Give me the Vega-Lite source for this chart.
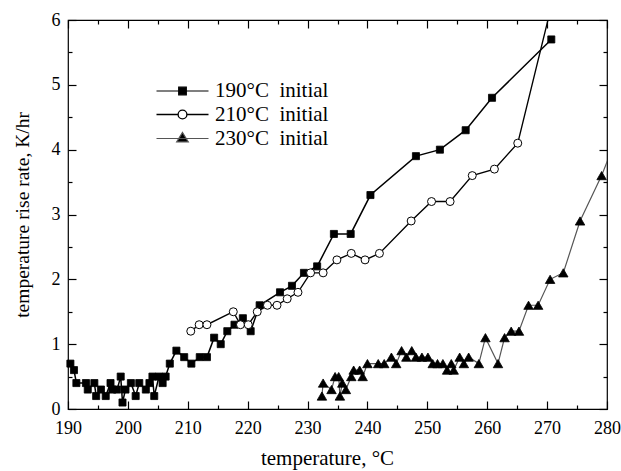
{
  "$schema": "https://vega.github.io/schema/vega-lite/v6.json",
  "width": 539,
  "height": 389,
  "autosize": "none",
  "padding": {"left": 68, "top": 20, "right": 14, "bottom": 62},
  "background": "white",
  "config": {
    "font": "Liberation Serif",
    "view": {"stroke": "black", "strokeWidth": 1.2},
    "axis": {
      "domain": false, "grid": false, "ticks": true, "zindex": 1,
      "tickColor": "black", "tickWidth": 1.2, "tickOpacity": 1,
      "labelColor": "black", "titleColor": "black",
      "labelFont": "Liberation Serif", "titleFont": "Liberation Serif",
      "titleFontWeight": "normal",
      "labelFontSize": 18, "titleFontSize": 20
    },
    "legend": {
      "orient": "none", "padding": 0, "title": null,
      "labelFont": "Liberation Serif", "labelFontSize": 21, "labelColor": "black",
      "symbolSize": 64, "symbolStrokeWidth": 1.2,
      "symbolOffset": 16, "labelOffset": 22
    }
  },
  "data": {"values": [
    {"series": "190°C initial", "t": 190.4, "rate": 0.7},
    {"series": "190°C initial", "t": 191.0, "rate": 0.6},
    {"series": "190°C initial", "t": 191.4, "rate": 0.4},
    {"series": "190°C initial", "t": 193.0, "rate": 0.4},
    {"series": "190°C initial", "t": 193.3, "rate": 0.3},
    {"series": "190°C initial", "t": 194.4, "rate": 0.4},
    {"series": "190°C initial", "t": 194.7, "rate": 0.2},
    {"series": "190°C initial", "t": 195.5, "rate": 0.3},
    {"series": "190°C initial", "t": 196.3, "rate": 0.2},
    {"series": "190°C initial", "t": 197.1, "rate": 0.4},
    {"series": "190°C initial", "t": 197.4, "rate": 0.3},
    {"series": "190°C initial", "t": 198.2, "rate": 0.3},
    {"series": "190°C initial", "t": 198.8, "rate": 0.5},
    {"series": "190°C initial", "t": 199.1, "rate": 0.1},
    {"series": "190°C initial", "t": 199.6, "rate": 0.3},
    {"series": "190°C initial", "t": 200.5, "rate": 0.4},
    {"series": "190°C initial", "t": 201.3, "rate": 0.2},
    {"series": "190°C initial", "t": 201.9, "rate": 0.4},
    {"series": "190°C initial", "t": 203.0, "rate": 0.3},
    {"series": "190°C initial", "t": 203.6, "rate": 0.4},
    {"series": "190°C initial", "t": 204.1, "rate": 0.5},
    {"series": "190°C initial", "t": 204.4, "rate": 0.2},
    {"series": "190°C initial", "t": 205.2, "rate": 0.5},
    {"series": "190°C initial", "t": 205.8, "rate": 0.4},
    {"series": "190°C initial", "t": 206.3, "rate": 0.5},
    {"series": "190°C initial", "t": 207.0, "rate": 0.7},
    {"series": "190°C initial", "t": 208.1, "rate": 0.9},
    {"series": "190°C initial", "t": 209.4, "rate": 0.8},
    {"series": "190°C initial", "t": 210.6, "rate": 0.7},
    {"series": "190°C initial", "t": 212.0, "rate": 0.8},
    {"series": "190°C initial", "t": 213.2, "rate": 0.8},
    {"series": "190°C initial", "t": 214.4, "rate": 1.1},
    {"series": "190°C initial", "t": 215.5, "rate": 1.0},
    {"series": "190°C initial", "t": 216.6, "rate": 1.2},
    {"series": "190°C initial", "t": 217.8, "rate": 1.3},
    {"series": "190°C initial", "t": 219.2, "rate": 1.4},
    {"series": "190°C initial", "t": 220.5, "rate": 1.2},
    {"series": "190°C initial", "t": 222.0, "rate": 1.6},
    {"series": "190°C initial", "t": 225.4, "rate": 1.8},
    {"series": "190°C initial", "t": 227.4, "rate": 1.9},
    {"series": "190°C initial", "t": 229.4, "rate": 2.1},
    {"series": "190°C initial", "t": 231.6, "rate": 2.2},
    {"series": "190°C initial", "t": 234.4, "rate": 2.7},
    {"series": "190°C initial", "t": 237.2, "rate": 2.7},
    {"series": "190°C initial", "t": 240.5, "rate": 3.3},
    {"series": "190°C initial", "t": 248.1, "rate": 3.9},
    {"series": "190°C initial", "t": 252.1, "rate": 4.0},
    {"series": "190°C initial", "t": 256.4, "rate": 4.3},
    {"series": "190°C initial", "t": 260.8, "rate": 4.8},
    {"series": "190°C initial", "t": 270.7, "rate": 5.7},
    {"series": "210°C initial", "t": 210.5, "rate": 1.2},
    {"series": "210°C initial", "t": 211.9, "rate": 1.3},
    {"series": "210°C initial", "t": 213.2, "rate": 1.3},
    {"series": "210°C initial", "t": 217.6, "rate": 1.5},
    {"series": "210°C initial", "t": 218.8, "rate": 1.3},
    {"series": "210°C initial", "t": 220.1, "rate": 1.3},
    {"series": "210°C initial", "t": 221.6, "rate": 1.5},
    {"series": "210°C initial", "t": 223.3, "rate": 1.6},
    {"series": "210°C initial", "t": 224.9, "rate": 1.6},
    {"series": "210°C initial", "t": 226.6, "rate": 1.7},
    {"series": "210°C initial", "t": 228.4, "rate": 1.8},
    {"series": "210°C initial", "t": 230.5, "rate": 2.1},
    {"series": "210°C initial", "t": 232.6, "rate": 2.1},
    {"series": "210°C initial", "t": 234.9, "rate": 2.3},
    {"series": "210°C initial", "t": 237.3, "rate": 2.4},
    {"series": "210°C initial", "t": 239.6, "rate": 2.3},
    {"series": "210°C initial", "t": 242.0, "rate": 2.4},
    {"series": "210°C initial", "t": 247.3, "rate": 2.9},
    {"series": "210°C initial", "t": 250.7, "rate": 3.2},
    {"series": "210°C initial", "t": 253.8, "rate": 3.2},
    {"series": "210°C initial", "t": 257.5, "rate": 3.6},
    {"series": "210°C initial", "t": 261.2, "rate": 3.7},
    {"series": "210°C initial", "t": 265.1, "rate": 4.1},
    {"series": "210°C initial", "t": 271.2, "rate": 6.4},
    {"series": "230°C initial", "t": 232.4, "rate": 0.2},
    {"series": "230°C initial", "t": 232.6, "rate": 0.4},
    {"series": "230°C initial", "t": 234.0, "rate": 0.3},
    {"series": "230°C initial", "t": 234.6, "rate": 0.5},
    {"series": "230°C initial", "t": 235.2, "rate": 0.5},
    {"series": "230°C initial", "t": 235.4, "rate": 0.2},
    {"series": "230°C initial", "t": 235.8, "rate": 0.4},
    {"series": "230°C initial", "t": 236.4, "rate": 0.3},
    {"series": "230°C initial", "t": 237.3, "rate": 0.5},
    {"series": "230°C initial", "t": 237.7, "rate": 0.6},
    {"series": "230°C initial", "t": 238.7, "rate": 0.6},
    {"series": "230°C initial", "t": 239.2, "rate": 0.5},
    {"series": "230°C initial", "t": 240.0, "rate": 0.7},
    {"series": "230°C initial", "t": 241.8, "rate": 0.7},
    {"series": "230°C initial", "t": 242.8, "rate": 0.7},
    {"series": "230°C initial", "t": 244.0, "rate": 0.8},
    {"series": "230°C initial", "t": 244.8, "rate": 0.7},
    {"series": "230°C initial", "t": 245.7, "rate": 0.9},
    {"series": "230°C initial", "t": 246.5, "rate": 0.8},
    {"series": "230°C initial", "t": 247.4, "rate": 0.9},
    {"series": "230°C initial", "t": 248.1, "rate": 0.8},
    {"series": "230°C initial", "t": 249.1, "rate": 0.8},
    {"series": "230°C initial", "t": 250.1, "rate": 0.8},
    {"series": "230°C initial", "t": 250.9, "rate": 0.7},
    {"series": "230°C initial", "t": 251.7, "rate": 0.7},
    {"series": "230°C initial", "t": 252.6, "rate": 0.7},
    {"series": "230°C initial", "t": 253.3, "rate": 0.6},
    {"series": "230°C initial", "t": 254.0, "rate": 0.7},
    {"series": "230°C initial", "t": 254.4, "rate": 0.6},
    {"series": "230°C initial", "t": 255.4, "rate": 0.8},
    {"series": "230°C initial", "t": 256.1, "rate": 0.7},
    {"series": "230°C initial", "t": 256.9, "rate": 0.8},
    {"series": "230°C initial", "t": 258.6, "rate": 0.7},
    {"series": "230°C initial", "t": 259.7, "rate": 1.1},
    {"series": "230°C initial", "t": 261.8, "rate": 0.7},
    {"series": "230°C initial", "t": 262.9, "rate": 1.1},
    {"series": "230°C initial", "t": 264.0, "rate": 1.2},
    {"series": "230°C initial", "t": 265.3, "rate": 1.2},
    {"series": "230°C initial", "t": 266.9, "rate": 1.6},
    {"series": "230°C initial", "t": 268.5, "rate": 1.6},
    {"series": "230°C initial", "t": 270.5, "rate": 2.0},
    {"series": "230°C initial", "t": 272.7, "rate": 2.1},
    {"series": "230°C initial", "t": 275.5, "rate": 2.9},
    {"series": "230°C initial", "t": 279.1, "rate": 3.6},
    {"series": "230°C initial", "t": 281.0, "rate": 4.05}
  ]},
  "layer": [
    {
      "mark": {"type": "line", "clip": true},
      "encoding": {
        "x": {
          "field": "t", "type": "quantitative",
          "scale": {"domain": [190, 280], "nice": false, "zero": false},
          "axis": {
            "orient": "bottom", "offset": -8, "tickSize": 8,
            "values": [190, 200, 210, 220, 230, 240, 250, 260, 270, 280],
            "format": "d",
            "labelOverlap": false, "labelFlush": false,
            "labelPadding": 10,
            "title": "temperature, °C",
            "titleFontSize": 21,
            "titleX": 259,
            "titlePadding": 10
          }
        },
        "y": {
          "field": "rate", "type": "quantitative",
          "scale": {"domain": [0, 6], "nice": false, "zero": true},
          "axis": {
            "orient": "left", "offset": -8, "tickSize": 8,
            "values": [0, 1, 2, 3, 4, 5, 6],
            "format": "d",
            "labelOverlap": false, "labelFlush": false,
            "labelPadding": 8,
            "title": "temperature rise rate, K/hr",
            "titleFontSize": 19.5,
            "titlePadding": 19
          }
        },
        "color": {
          "field": "series", "type": "nominal",
          "scale": {"range": ["black", "black", "#555555"]},
          "legend": {
            "values": ["190°C initial"],
            "legendX": 88, "legendY": 60.5,
            "labelExpr": "replace(datum.label, ' ', '\u00a0\u00a0')",
            "symbolType": "M-6.5,0H6.5M-0.95,-0.95H0.95V0.95H-0.95Z",
            "symbolFillColor": "black"
          }
        },
        "strokeWidth": {
          "field": "series", "type": "nominal",
          "scale": {"domain": ["190°C initial", "210°C initial", "230°C initial"], "range": [1.5, 1.2, 1]},
          "legend": {
            "values": ["210°C initial"],
            "legendX": 88, "legendY": 84,
            "labelExpr": "replace(datum.label, ' ', '\u00a0\u00a0')",
            "symbolType": "M-6.5,0H-1.1M1.1,0H6.5M-1.1,0A1.1,1.1,0,1,1,1.1,0A1.1,1.1,0,1,1,-1.1,0Z",
            "symbolFillColor": "white",
            "symbolStrokeColor": "black"
          }
        },
        "opacity": {
          "field": "series", "type": "nominal",
          "scale": {"domain": ["230°C initial", "210°C initial", "190°C initial"], "range": [1, 1, 1]},
          "legend": {
            "values": ["230°C initial"],
            "legendX": 88, "legendY": 108,
            "labelExpr": "replace(datum.label, ' ', '\u00a0\u00a0')",
            "symbolType": "M-6.5,0H6.5M0,-1.5L1.45,0.85L-1.45,0.85Z",
            "symbolFillColor": "black",
            "symbolStrokeColor": "#555555"
          }
        }
      }
    },
    {
      "transform": [{"filter": "datum.series === '190°C initial' && datum.t <= 280 && datum.rate <= 6"}],
      "mark": {"type": "point", "shape": "square", "size": 50, "filled": true, "fill": "black", "stroke": "black", "strokeWidth": 0.8, "opacity": 1},
      "encoding": {
        "x": {
          "field": "t", "type": "quantitative",
          "scale": {"domain": [190, 280], "nice": false, "zero": false},
          "axis": {
            "orient": "top", "offset": -8, "tickSize": 8,
            "values": [190, 200, 210, 220, 230, 240, 250, 260, 270, 280],
            "labels": false, "title": null
          }
        },
        "y": {
          "field": "rate", "type": "quantitative",
          "scale": {"domain": [0, 6], "nice": false, "zero": true},
          "axis": {
            "orient": "right", "offset": -8, "tickSize": 8,
            "values": [0, 1, 2, 3, 4, 5, 6],
            "labels": false, "title": null
          }
        }
      }
    },
    {
      "transform": [{"filter": "datum.series === '210°C initial' && datum.t <= 280 && datum.rate <= 6"}],
      "mark": {"type": "point", "shape": "circle", "size": 64, "fill": "white", "stroke": "black", "strokeWidth": 1, "opacity": 1},
      "encoding": {
        "x": {
          "field": "t", "type": "quantitative",
          "axis": {
            "orient": "bottom", "offset": -4, "tickSize": 4,
            "values": [195, 205, 215, 225, 235, 245, 255, 265, 275],
            "labels": false, "title": null
          }
        },
        "y": {
          "field": "rate", "type": "quantitative",
          "axis": {
            "orient": "left", "offset": -4, "tickSize": 4,
            "values": [0.5, 1.5, 2.5, 3.5, 4.5, 5.5],
            "labels": false, "title": null
          }
        }
      }
    },
    {
      "transform": [{"filter": "datum.series === '230°C initial' && datum.t <= 280 && datum.rate <= 6"}],
      "mark": {"type": "point", "shape": "triangle-up", "size": 90, "filled": true, "fill": "black", "stroke": "black", "strokeWidth": 0.8, "opacity": 1},
      "encoding": {
        "x": {
          "field": "t", "type": "quantitative",
          "axis": {
            "orient": "top", "offset": -4, "tickSize": 4,
            "values": [195, 205, 215, 225, 235, 245, 255, 265, 275],
            "labels": false, "title": null
          }
        },
        "y": {
          "field": "rate", "type": "quantitative",
          "axis": {
            "orient": "right", "offset": -4, "tickSize": 4,
            "values": [0.5, 1.5, 2.5, 3.5, 4.5, 5.5],
            "labels": false, "title": null
          }
        }
      }
    }
  ],
  "resolve": {"axis": {"x": "independent", "y": "independent"}}
}
